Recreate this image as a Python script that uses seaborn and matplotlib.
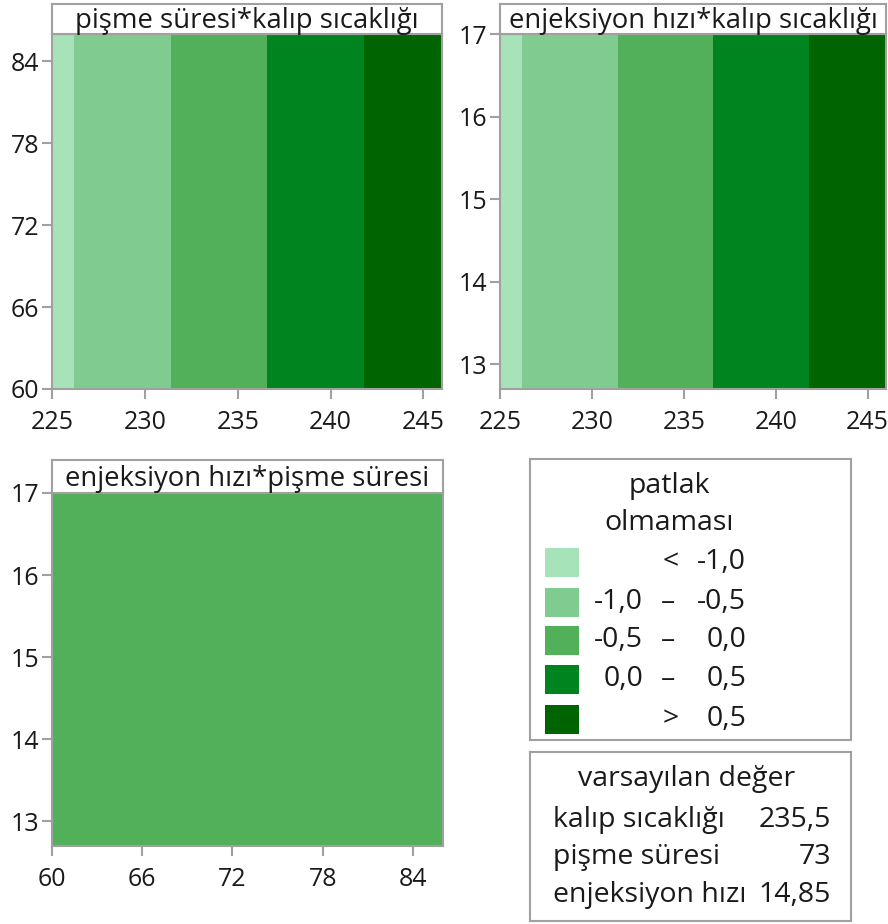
import numpy as np
import pandas as pd
import matplotlib
matplotlib.use("Agg")
import matplotlib.pyplot as plt
from matplotlib.colors import ListedColormap
from matplotlib.patches import Rectangle
import seaborn as sns

# Faktörler ve varsayılan (sabit tutulan) değerler
faktorler = ["kalıp sıcaklığı", "pişme süresi", "enjeksiyon hızı"]
varsayilan = [235.5, 73, 14.85]
varsayilan_etiket = ["235,5", "73", "14,85"]

# eksen aralıkları
araliklar = [[225, 246], [60, 86], [12.7, 17.0]]
tikler = [[225, 230, 235, 240, 245], [60, 66, 72, 78, 84], [13, 14, 15, 16, 17]]

# kontur seviyeleri ve yanıtın bu seviyeleri kestiği kalıp sıcaklığı değerleri
seviyeler = [-1.0, -0.5, 0.0, 0.5]
kesisim_kalip = [226.2, 231.4, 236.6, 241.8]

renkler = ["#a6e3b8", "#80cc90", "#52af5a", "#00841f", "#006400"]

# paneller: (x faktörü, y faktörü)
paneller = [(0, 1), (0, 2), (1, 2)]

sns.set_style("white")
plt.rcParams["font.family"] = ["Open Sans", "DejaVu Sans"]

GRI = "#a0a0a0"
YAZI = "#1a1a1a"
W, H = 888, 924
FS_TIK = 18
FS_BASLIK = 19.8
FS_LEJ = 20.5

# yanıt sadece kalıp sıcaklığına bağlı (doğrusal)
fit = np.polyfit(kesisim_kalip, seviyeler, 1)


def kutu(fig, L, R, T, B):
    return fig.add_axes([L / W, 1 - B / H, (R - L) / W, (B - T) / H])


def cerceve(ax):
    for s in ax.spines.values():
        s.set_visible(True)
        s.set_color(GRI)
        s.set_linewidth(1.5)


def izgara(xf, yf, n=420, m=60):
    xlo, xhi = araliklar[xf]
    ylo, yhi = araliklar[yf]
    xs = xlo + (np.arange(n) + 0.5) * (xhi - xlo) / n
    ys = ylo + (np.arange(m) + 0.5) * (yhi - ylo) / m
    X, Y = np.meshgrid(xs, ys)
    degerler = [np.full(X.shape, v, dtype=float) for v in varsayilan]
    degerler[xf] = X
    degerler[yf] = Y
    z = np.polyval(fit, degerler[0])
    bant = np.digitize(z, seviyeler)
    return pd.DataFrame(bant, index=ys, columns=xs)


fig = plt.figure(figsize=(W / 100, H / 100), dpi=100)
cmap = ListedColormap(renkler)

konumlar = [(52, 442, 34, 389, 4), (500, 886, 34, 389, 4), (52, 443, 493, 846, 460)]

for (xf, yf), (L, R, T, B, TT) in zip(paneller, konumlar):
    ax = kutu(fig, L, R, T, B)
    df = izgara(xf, yf)
    sns.heatmap(df, ax=ax, cmap=cmap, vmin=-0.5, vmax=4.5, cbar=False,
                xticklabels=False, yticklabels=False, linewidths=0)
    ax.invert_yaxis()
    n, m = df.shape[1], df.shape[0]
    xt = tikler[xf]
    yt = tikler[yf]
    ax.set_xticks(np.interp(xt, araliklar[xf], [0, n]))
    ax.set_xticklabels([str(t) for t in xt], fontsize=FS_TIK, color=YAZI, rotation=0)
    ax.set_yticks(np.interp(yt, araliklar[yf], [0, m]))
    ax.set_yticklabels([str(t) for t in yt], fontsize=FS_TIK, color=YAZI, rotation=0)
    ax.set_xlabel("")
    ax.set_ylabel("")
    ax.tick_params(axis="both", direction="out", length=7, width=1.5, color=GRI,
                   bottom=True, left=True)
    ax.tick_params(axis="x", pad=8)
    ax.tick_params(axis="y", pad=2)
    cerceve(ax)

    # panel başlığı
    axt = kutu(fig, L, R, TT, T)
    axt.set_xticks([])
    axt.set_yticks([])
    cerceve(axt)
    axt.text(0.5, 0.42, f"{faktorler[yf]}*{faktorler[xf]}", ha="center", va="center",
             fontsize=FS_BASLIK, color=YAZI, transform=axt.transAxes)

# Lejant kutusu
axl = kutu(fig, 530, 851, 459, 740)
axl.set_xlim(530, 851)
axl.set_ylim(740, 459)
axl.set_xticks([])
axl.set_yticks([])
cerceve(axl)
axl.text(669, 486, "patlak", ha="center", va="center", fontsize=FS_LEJ, color=YAZI)
axl.text(669, 523, "olmaması", ha="center", va="center", fontsize=FS_LEJ, color=YAZI)


def fmt(v):
    return f"{v:.1f}".replace(".", ",")


satir_y = [562, 602, 640, 679, 719]
for i, (renk, y) in enumerate(zip(renkler, satir_y)):
    axl.add_patch(Rectangle((545, y - 14.5), 34, 29, facecolor=renk, edgecolor="none"))
    if i == 0:
        axl.text(671, y, "<", ha="center", va="center", fontsize=FS_LEJ, color=YAZI)
        axl.text(746, y, fmt(seviyeler[0]), ha="right", va="center", fontsize=FS_LEJ, color=YAZI)
    elif i == len(renkler) - 1:
        axl.text(671, y, ">", ha="center", va="center", fontsize=FS_LEJ, color=YAZI)
        axl.text(746, y, fmt(seviyeler[-1]), ha="right", va="center", fontsize=FS_LEJ, color=YAZI)
    else:
        axl.text(643, y, fmt(seviyeler[i - 1]), ha="right", va="center", fontsize=FS_LEJ, color=YAZI)
        axl.text(668, y, "–", ha="center", va="center", fontsize=FS_LEJ, color=YAZI)
        axl.text(746, y, fmt(seviyeler[i]), ha="right", va="center", fontsize=FS_LEJ, color=YAZI)

# Varsayılan değer kutusu
axd = kutu(fig, 530, 851, 752, 921)
axd.set_xlim(530, 851)
axd.set_ylim(921, 752)
axd.set_xticks([])
axd.set_yticks([])
cerceve(axd)
axd.text(687, 779, "varsayılan değer", ha="center", va="center", fontsize=FS_LEJ, color=YAZI)
for ad, deg, y in zip(faktorler, varsayilan_etiket, [820, 857, 895]):
    axd.text(553, y, ad, ha="left", va="center", fontsize=FS_LEJ, color=YAZI)
    axd.text(831, y, deg, ha="right", va="center", fontsize=FS_LEJ, color=YAZI)

fig.savefig("out.png", dpi=100)
